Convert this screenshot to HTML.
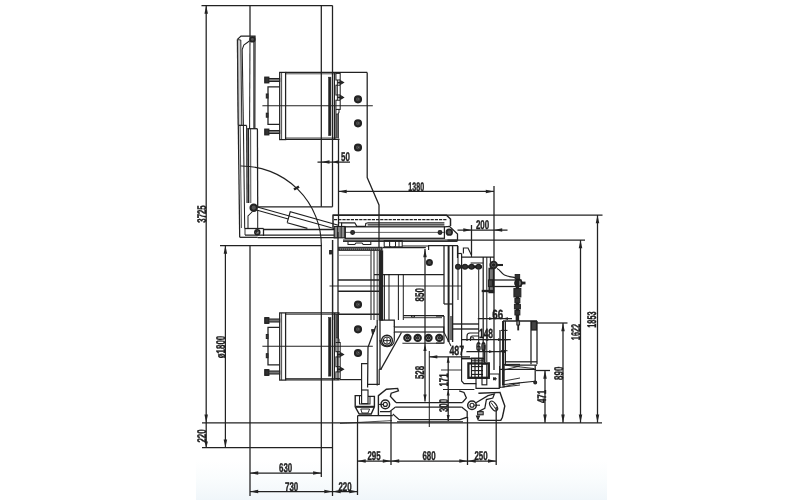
<!DOCTYPE html>
<html><head><meta charset="utf-8"><title>Drawing</title>
<style>
html,body{margin:0;padding:0;background:#fff;}
body{width:800px;height:500px;overflow:hidden;font-family:"Liberation Sans",sans-serif;}
svg{display:block;position:absolute;left:0;top:0}
svg *{vector-effect:none}
.t{font-family:"Liberation Sans",sans-serif;fill:#1e1e1e;stroke:#1e1e1e;stroke-width:0.4px;text-rendering:geometricPrecision}
.a{fill:#222;stroke:none}
</style></head><body>
<svg width="800" height="500" viewBox="0 0 800 500">
<defs><linearGradient id="bg" x1="0" y1="0" x2="0" y2="1"><stop offset="0" stop-color="#ffffff"/><stop offset="0.5" stop-color="#f9fcfd"/><stop offset="1" stop-color="#f0f6fa"/></linearGradient><filter id="gs" x="0" y="0" width="800" height="500" filterUnits="userSpaceOnUse" color-interpolation-filters="sRGB"><feColorMatrix type="saturate" values="0"/><feGaussianBlur stdDeviation="0.3"/></filter><filter id="bl" x="0" y="0" width="800" height="500" filterUnits="userSpaceOnUse"><feGaussianBlur stdDeviation="0.32"/></filter></defs>
<rect x="0" y="0" width="800" height="500" fill="#ffffff"/>
<rect x="196" y="460" width="411" height="40" fill="url(#bg)"/>
<g fill="none" stroke="#202020" stroke-width="1.25" filter="url(#bl)">
<line x1="201.5" y1="5.5" x2="332.5" y2="5.5"/>
<line x1="206.2" y1="5.5" x2="206.2" y2="447.6"/>
<polygon points="206.2,5.5 204.45,13.7 207.95,13.7" class="a"/>
<polygon points="206.2,422.8 204.45,414.6 207.95,414.6" class="a"/>
<polygon points="206.2,447.6 204.45,441.6 207.95,441.6" class="a"/>
<line x1="250" y1="5.5" x2="250" y2="36"/>
<line x1="321.3" y1="5.5" x2="321.3" y2="206.8"/>
<line x1="332.5" y1="5.5" x2="332.5" y2="206.8"/>
<line x1="257.5" y1="206.8" x2="332.5" y2="206.8"/>
<line x1="250" y1="245.5" x2="250" y2="496"/>
<line x1="321.3" y1="245.5" x2="321.3" y2="477"/>
<line x1="332.5" y1="240" x2="332.5" y2="496"/>
<line x1="220" y1="245.5" x2="321.3" y2="245.5"/>
<line x1="225.4" y1="245.5" x2="225.4" y2="447.6"/>
<polygon points="225.4,245.5 223.65,253.7 227.15,253.7" class="a"/>
<polygon points="225.4,447.6 223.65,439.40000000000003 227.15,439.40000000000003" class="a"/>
<line x1="202" y1="422.9" x2="602" y2="422.9"/>
<line x1="202" y1="447.6" x2="332.5" y2="447.6"/>
<line x1="250" y1="473" x2="321.3" y2="473"/>
<polygon points="250,473 258.2,471.25 258.2,474.75" class="a"/>
<polygon points="321.3,473 313.1,471.25 313.1,474.75" class="a"/>
<line x1="250" y1="491.5" x2="357.5" y2="491.5"/>
<polygon points="250,491.5 258.2,489.75 258.2,493.25" class="a"/>
<polygon points="332.5,491.5 324.3,489.75 324.3,493.25" class="a"/>
<polygon points="332.5,491.5 340.7,489.75 340.7,493.25" class="a"/>
<polygon points="357.5,491.5 349.3,489.75 349.3,493.25" class="a"/>
<line x1="357.5" y1="422.8" x2="357.5" y2="495"/>
<line x1="391" y1="411" x2="391" y2="465"/>
<line x1="467.5" y1="417" x2="467.5" y2="465"/>
<line x1="496.2" y1="407" x2="496.2" y2="465"/>
<line x1="357.5" y1="461" x2="496.2" y2="461"/>
<polygon points="357.5,461 365.7,459.25 365.7,462.75" class="a"/>
<polygon points="391,461 399.2,459.25 399.2,462.75" class="a"/>
<polygon points="467.5,461 475.7,459.25 475.7,462.75" class="a"/>
<polygon points="391,461 382.8,459.25 382.8,462.75" class="a"/>
<polygon points="467.5,461 459.3,459.25 459.3,462.75" class="a"/>
<polygon points="496.2,461 488.0,459.25 488.0,462.75" class="a"/>
<line x1="317.5" y1="162" x2="350" y2="162"/>
<polygon points="321.3,162 329.5,160.25 329.5,163.75" class="a"/>
<polygon points="332.5,162 338.5,160.25 338.5,163.75" class="a"/>
<line x1="338.5" y1="191.4" x2="494" y2="191.4"/>
<polygon points="338.5,191.4 346.7,189.65 346.7,193.15" class="a"/>
<polygon points="494,191.4 485.8,189.65 485.8,193.15" class="a"/>
<line x1="338.5" y1="139" x2="338.5" y2="232"/>
<line x1="494" y1="186" x2="494" y2="370"/>
<line x1="457.5" y1="230" x2="507.5" y2="230"/>
<polygon points="471.5,230 463.3,228.25 463.3,231.75" class="a"/>
<polygon points="494,230 502.2,228.25 502.2,231.75" class="a"/>
<line x1="471.5" y1="225" x2="471.5" y2="255"/>
<line x1="333" y1="215" x2="602.5" y2="215"/>
<line x1="597.5" y1="215" x2="597.5" y2="422.8"/>
<polygon points="597.5,215 595.75,223.2 599.25,223.2" class="a"/>
<polygon points="597.5,422.8 595.75,414.6 599.25,414.6" class="a"/>
<line x1="447.5" y1="240" x2="585" y2="240"/>
<line x1="580.5" y1="240" x2="580.5" y2="422.8"/>
<polygon points="580.5,240 578.75,248.2 582.25,248.2" class="a"/>
<polygon points="580.5,422.8 578.75,414.6 582.25,414.6" class="a"/>
<line x1="536" y1="323" x2="567.5" y2="323"/>
<line x1="563" y1="323" x2="563" y2="422.8"/>
<polygon points="563,323 561.25,331.2 564.75,331.2" class="a"/>
<polygon points="563,422.8 561.25,414.6 564.75,414.6" class="a"/>
<line x1="536" y1="370.5" x2="550" y2="370.5"/>
<line x1="545" y1="370.5" x2="545" y2="422.8"/>
<polygon points="545,370.5 543.25,378.7 546.75,378.7" class="a"/>
<polygon points="545,422.8 543.25,414.6 546.75,414.6" class="a"/>
<line x1="425" y1="249" x2="425" y2="401.5"/>
<polygon points="425,249 423.25,257.2 426.75,257.2" class="a"/>
<line x1="429.3" y1="351" x2="429.3" y2="427" stroke-width="1.03"/>
<polygon points="425,344 423.4,351 426.6,351" class="a"/>
<polygon points="425,401.5 423.4,394.5 426.6,394.5" class="a"/>
<line x1="448.2" y1="356.8" x2="448.2" y2="421"/>
<polygon points="448.2,356.8 446.7,362.8 449.7,362.8" class="a"/>
<polygon points="448.2,389.5 446.7,395.5 449.7,395.5" class="a"/>
<polygon points="448.2,421 446.7,415 449.7,415" class="a"/>
<line x1="429.3" y1="356.8" x2="470" y2="356.8"/>
<polygon points="429.3,356.8 437.3,355.2 437.3,358.40000000000003" class="a"/>
<rect x="279.7" y="72.4" width="5.9" height="67.2"/>
<line x1="281.6" y1="72.4" x2="281.6" y2="139.6" stroke-width="0.8"/>
<line x1="285.6" y1="72.4" x2="367.2" y2="72.4"/>
<line x1="285.6" y1="139.3" x2="339.5" y2="139.3"/>
<line x1="285.6" y1="73.8" x2="336" y2="73.8" stroke-width="0.8"/>
<line x1="285.6" y1="138" x2="336" y2="138" stroke-width="0.8"/>
<rect x="264.8" y="77.2" width="4.0" height="5.6" fill="#333"/>
<rect x="268.8" y="78.5" width="10.9" height="3.0" stroke-width="1.03" fill="#777"/>
<rect x="264.8" y="129.2" width="4.0" height="5.6" fill="#333"/>
<rect x="268.8" y="130.5" width="10.9" height="3.0" stroke-width="1.03" fill="#777"/>
<path d="M279.7 86.8 L268 86.8 L268 124.4 L279.7 124.4"/>
<rect x="266.3" y="94" width="1.7" height="4" stroke-width="1.03" fill="#444"/>
<rect x="266.3" y="113.2" width="1.7" height="4.0" stroke-width="1.03" fill="#444"/>
<line x1="262.4" y1="105.7" x2="372.8" y2="105.7" stroke-width="1.03"/>
<rect x="328.6" y="77.2" width="2.3" height="58.4" stroke-width="0.57" fill="#222"/>
<line x1="334.4" y1="72.4" x2="334.4" y2="139.3"/>
<rect x="335.9" y="73.4" width="4.3" height="6.6" stroke-width="1.03"/>
<rect x="335.9" y="85.2" width="4.3" height="9.8" stroke-width="1.03"/>
<rect x="335.9" y="100.2" width="4.3" height="9.2" stroke-width="1.03"/>
<line x1="337.4" y1="80" x2="337.4" y2="100.2" stroke-width="0.92"/>
<path d="M335.9 109.4 L335.9 138.6" stroke-width="1.03"/>
<path d="M339 109.4 L339 112.4 L338.3 113.5 L338.3 138.6" stroke-width="1.03"/>
<rect x="336.4" y="114" width="1.4" height="23.5" stroke-width="0.69" fill="#bbb"/>
<path d="M337.4 82.6 L340 82.6" stroke-width="1.84"/>
<path d="M340 80.5 L343.6 82.6 L340 84.69999999999999 Z" stroke-width="1.03" fill="#2a2a2a"/>
<path d="M337.4 97.4 L340 97.4" stroke-width="1.84"/>
<path d="M340 95.30000000000001 L343.6 97.4 L340 99.5 Z" stroke-width="1.03" fill="#2a2a2a"/>
<rect x="279.7" y="312.9" width="5.9" height="67.2"/>
<line x1="281.6" y1="312.9" x2="281.6" y2="380.1" stroke-width="0.8"/>
<line x1="285.6" y1="312.9" x2="339.5" y2="312.9"/>
<line x1="285.6" y1="379.8" x2="339.5" y2="379.8"/>
<line x1="285.6" y1="314.3" x2="336" y2="314.3" stroke-width="0.8"/>
<line x1="285.6" y1="378.5" x2="336" y2="378.5" stroke-width="0.8"/>
<rect x="264.8" y="317.7" width="4.0" height="5.6" fill="#333"/>
<rect x="268.8" y="319.0" width="10.9" height="3.0" stroke-width="1.03" fill="#777"/>
<rect x="264.8" y="369.7" width="4.0" height="5.6" fill="#333"/>
<rect x="268.8" y="371.0" width="10.9" height="3.0" stroke-width="1.03" fill="#777"/>
<path d="M279.7 327.3 L268 327.3 L268 364.9 L279.7 364.9"/>
<rect x="266.3" y="334.5" width="1.7" height="4.0" stroke-width="1.03" fill="#444"/>
<rect x="266.3" y="353.7" width="1.7" height="4.0" stroke-width="1.03" fill="#444"/>
<line x1="262.4" y1="346.2" x2="372.8" y2="346.2" stroke-width="1.03"/>
<rect x="328.6" y="317.7" width="2.3" height="58.4" stroke-width="0.57" fill="#222"/>
<line x1="334.4" y1="312.9" x2="334.4" y2="379.8"/>
<rect x="335.9" y="371.9" width="4.3" height="6.6" stroke-width="1.03"/>
<rect x="335.9" y="356.9" width="4.3" height="9.8" stroke-width="1.03"/>
<rect x="335.9" y="342.5" width="4.3" height="9.2" stroke-width="1.03"/>
<line x1="337.4" y1="351.7" x2="337.4" y2="371.9" stroke-width="0.92"/>
<path d="M335.9 342.5 L335.9 313.3" stroke-width="1.03"/>
<path d="M339 342.5 L339 339.5 L338.3 338.4 L338.3 313.3" stroke-width="1.03"/>
<rect x="336.4" y="314.4" width="1.4" height="23.5" stroke-width="0.69" fill="#bbb"/>
<path d="M337.4 369.3 L340 369.3" stroke-width="1.84"/>
<path d="M340 371.4 L343.6 369.3 L340 367.2 Z" stroke-width="1.03" fill="#2a2a2a"/>
<path d="M337.4 354.5 L340 354.5" stroke-width="1.84"/>
<path d="M340 356.6 L343.6 354.5 L340 352.4 Z" stroke-width="1.03" fill="#2a2a2a"/>
<path d="M367.2 72.4 L367.2 177.5 L379 205 L379 250"/>
<circle cx="358" cy="99.3" r="3.1" stroke-width="1.95" fill="#4a4a4a"/>
<circle cx="358.6" cy="99.0" r="0.9" stroke-width="0.69" fill="#999"/>
<circle cx="358" cy="123.3" r="3.1" stroke-width="1.95" fill="#4a4a4a"/>
<circle cx="358.6" cy="123.0" r="0.9" stroke-width="0.69" fill="#999"/>
<circle cx="358" cy="147.5" r="3.1" stroke-width="1.95" fill="#4a4a4a"/>
<circle cx="358.6" cy="147.2" r="0.9" stroke-width="0.69" fill="#999"/>
<circle cx="358" cy="304.5" r="3.1" stroke-width="1.95" fill="#4a4a4a"/>
<circle cx="358.6" cy="304.2" r="0.9" stroke-width="0.69" fill="#999"/>
<circle cx="358" cy="329.3" r="3.1" stroke-width="1.95" fill="#4a4a4a"/>
<circle cx="358.6" cy="329.0" r="0.9" stroke-width="0.69" fill="#999"/>
<circle cx="358" cy="353" r="3.1" stroke-width="1.95" fill="#4a4a4a"/>
<circle cx="358.6" cy="352.7" r="0.9" stroke-width="0.69" fill="#999"/>
<path d="M237.4 39.4 L241 36 L255 36 L254.8 128.7"/>
<line x1="237.4" y1="39.4" x2="238.3" y2="125.4"/>
<line x1="238.3" y1="125.4" x2="239.7" y2="237.3"/>
<path d="M237.6 39.6 L240.8 40 L241.8 125.4 L238.3 125.4 Z" stroke-width="0.92" fill="#d0d0d0"/>
<line x1="240.1" y1="125.4" x2="241.4" y2="228" stroke-width="0.8"/>
<path d="M249.4 41 L243.8 45 L242.2 49.5 L243.4 125.4 L244.7 228.4" stroke-width="1.03"/>
<circle cx="252.4" cy="39.4" r="2.3" stroke-width="1.72" fill="#555"/>
<line x1="253.7" y1="42" x2="253.7" y2="128.7" stroke-width="0.8"/>
<line x1="250" y1="36" x2="249.6" y2="128.7" stroke-width="1.03"/>
<line x1="238.3" y1="125.4" x2="246.6" y2="125.4"/>
<line x1="246.6" y1="125.4" x2="247" y2="203" stroke-width="1.03"/>
<line x1="247.2" y1="128.7" x2="257.4" y2="128.7"/>
<line x1="248.2" y1="128.7" x2="248.5" y2="203" stroke-width="1.72"/>
<line x1="250.6" y1="128.7" x2="250.8" y2="203" stroke-width="0.8"/>
<line x1="257.4" y1="128.7" x2="257.7" y2="206.8"/>
<line x1="239.7" y1="237.3" x2="257.7" y2="237.3"/>
<line x1="244.7" y1="228.5" x2="263.5" y2="228.5"/>
<line x1="263.5" y1="229.5" x2="339" y2="229.5" stroke-width="1.49"/>
<line x1="245" y1="235" x2="339" y2="235"/>
<line x1="257.7" y1="237.7" x2="339" y2="237.7"/>
<line x1="263.5" y1="228.5" x2="263.5" y2="236"/>
<line x1="245" y1="228.5" x2="245" y2="235" stroke-width="0.92"/>
<circle cx="257.3" cy="232.3" r="2.4" stroke-width="1.72"/>
<rect x="256.5" y="231.5" width="1.6" height="1.6" stroke-width="0.8"/>
<circle cx="253.7" cy="207.7" r="3.2" stroke-width="2.07" fill="#555"/>
<path d="M252.5 211.5 L248 216 L248 228.4" stroke-width="1.03"/>
<line x1="257.7" y1="210" x2="257.7" y2="228.4" stroke-width="1.03"/>
<path d="M257.32 206.97 L337.51 229.42" stroke-width="1.03"/>
<path d="M256.46 210.05 L288.24 218.95" stroke-width="1.03"/>
<path d="M287.18 222.7 L290.23 211.82 L338.38 225.3" stroke-width="1.15"/>
<path d="M287.18 222.7 L307.41 228.37" stroke-width="1.15"/>
<path d="M240.5 166 A80 80 0 0 1 321.4 246" stroke-width="1.15"/>
<path d="M294 189.5 L296.5 188 L299 186.6" stroke-width="2.53"/>
<rect x="334.2" y="226.5" width="10.8" height="11.3" stroke-width="1.15" fill="#8a8a8a"/>
<line x1="337.6" y1="226.5" x2="337.6" y2="237.8" stroke-width="0.92"/>
<line x1="341.2" y1="226.5" x2="341.2" y2="237.8" stroke-width="0.92"/>
<rect x="329.6" y="250.5" width="1.8" height="3.5" stroke-width="0.92" fill="#333"/>
<path d="M333 227.7 L333 215.2 L446.5 215.2 L450.5 219 L450.5 226" stroke-width="1.49"/>
<line x1="334" y1="219.6" x2="447" y2="219.6" stroke-width="1.3" stroke-dasharray="3.2 1"/>
<path d="M338.5 227 L338.5 222.8 L341.6 222.8" stroke-width="0.92"/>
<path d="M341.6 226.8 L341.6 222.8 L354.8 222.8 L356.8 226.4 L365.4 226.4 L365.8 223.4 L368 222.8 L444.4 222.8" stroke-width="1.15"/>
<line x1="367.6" y1="224.8" x2="444.4" y2="224.8" stroke-width="1.15"/>
<rect x="345.2" y="226.8" width="99.2" height="11.5"/>
<line x1="345.2" y1="232.4" x2="444.4" y2="232.4" stroke-width="0.69"/>
<circle cx="352.6" cy="232.4" r="1.9" stroke-width="1.15" fill="#333"/>
<circle cx="440" cy="232.4" r="1.9" stroke-width="1.15" fill="#333"/>
<circle cx="449.3" cy="232.2" r="2.8" stroke-width="1.72" fill="#555"/>
<path d="M444.4 226.8 L449.5 226.4 L457.5 234 L457.5 240 L343 240"/>
<line x1="343" y1="241.5" x2="457.5" y2="241.5" stroke-width="0.92"/>
<path d="M348 241.5 L348 244.6 L354.8 244.6 L356 243 L362 243 L363.2 244.6 L370.8 244.6 L370.8 241.5" stroke-width="1.03"/>
<rect x="384.2" y="240.6" width="18.0" height="6.2" stroke-width="1.03"/>
<path d="M389.6 240.6 L389.6 246 L391 247.6 L394 247.6 L395.5 246 L395.5 240.6" stroke-width="1.03"/>
<line x1="399" y1="240.6" x2="399" y2="246.8" stroke-width="0.92"/>
<line x1="402.2" y1="246" x2="428.6" y2="246" stroke-width="1.03"/>
<path d="M428.6 250 L428.6 245.6 L457.5 245.6 L457.5 258" stroke-width="1.15"/>
<rect x="338.7" y="247.3" width="43.3" height="3.0" stroke-width="1.03" fill="#888"/>
<line x1="339" y1="250.3" x2="340.4" y2="247.3" stroke-width="0.8" stroke="#222"/>
<line x1="341" y1="250.3" x2="342.4" y2="247.3" stroke-width="0.8" stroke="#222"/>
<line x1="343" y1="250.3" x2="344.4" y2="247.3" stroke-width="0.8" stroke="#222"/>
<line x1="345" y1="250.3" x2="346.4" y2="247.3" stroke-width="0.8" stroke="#222"/>
<line x1="347" y1="250.3" x2="348.4" y2="247.3" stroke-width="0.8" stroke="#222"/>
<line x1="349" y1="250.3" x2="350.4" y2="247.3" stroke-width="0.8" stroke="#222"/>
<line x1="351" y1="250.3" x2="352.4" y2="247.3" stroke-width="0.8" stroke="#222"/>
<line x1="353" y1="250.3" x2="354.4" y2="247.3" stroke-width="0.8" stroke="#222"/>
<line x1="355" y1="250.3" x2="356.4" y2="247.3" stroke-width="0.8" stroke="#222"/>
<line x1="357" y1="250.3" x2="358.4" y2="247.3" stroke-width="0.8" stroke="#222"/>
<line x1="359" y1="250.3" x2="360.4" y2="247.3" stroke-width="0.8" stroke="#222"/>
<line x1="361" y1="250.3" x2="362.4" y2="247.3" stroke-width="0.8" stroke="#222"/>
<line x1="363" y1="250.3" x2="364.4" y2="247.3" stroke-width="0.8" stroke="#222"/>
<line x1="365" y1="250.3" x2="366.4" y2="247.3" stroke-width="0.8" stroke="#222"/>
<line x1="367" y1="250.3" x2="368.4" y2="247.3" stroke-width="0.8" stroke="#222"/>
<line x1="369" y1="250.3" x2="370.4" y2="247.3" stroke-width="0.8" stroke="#222"/>
<line x1="371" y1="250.3" x2="372.4" y2="247.3" stroke-width="0.8" stroke="#222"/>
<line x1="373" y1="250.3" x2="374.4" y2="247.3" stroke-width="0.8" stroke="#222"/>
<line x1="375" y1="250.3" x2="376.4" y2="247.3" stroke-width="0.8" stroke="#222"/>
<line x1="377" y1="250.3" x2="378.4" y2="247.3" stroke-width="0.8" stroke="#222"/>
<line x1="379" y1="250.3" x2="380.4" y2="247.3" stroke-width="0.8" stroke="#222"/>
<line x1="381" y1="250.3" x2="382.4" y2="247.3" stroke-width="0.8" stroke="#222"/>
<line x1="332.6" y1="240" x2="332.6" y2="320"/>
<line x1="338" y1="232" x2="338" y2="380"/>
<line x1="371" y1="250.3" x2="371" y2="320" stroke-width="1.03"/>
<line x1="374" y1="250.3" x2="374" y2="320" stroke-width="1.03"/>
<rect x="379.3" y="251" width="3.3" height="69" stroke-width="1.15" fill="#222"/>
<line x1="377.2" y1="251" x2="377.2" y2="320" stroke-width="0.8"/>
<line x1="338" y1="255.3" x2="371" y2="255.3" stroke-width="0.69" stroke="#777"/>
<line x1="338" y1="280" x2="379" y2="280" stroke-width="1.38"/>
<line x1="329.5" y1="286" x2="462" y2="286" stroke-width="0.92"/>
<line x1="338" y1="291.3" x2="379" y2="291.3" stroke-width="1.38"/>
<line x1="338" y1="314.3" x2="379" y2="314.3" stroke-width="1.38"/>
<line x1="383" y1="247.6" x2="425.8" y2="247.6"/>
<line x1="374" y1="274.7" x2="444" y2="274.7"/>
<line x1="384.4" y1="274.7" x2="384.4" y2="320" stroke-width="1.03"/>
<line x1="389" y1="274.7" x2="389" y2="320" stroke-width="1.03"/>
<line x1="398.4" y1="274.7" x2="398.4" y2="320" stroke-width="1.03"/>
<line x1="403.3" y1="274.7" x2="403.3" y2="320" stroke-width="1.03"/>
<line x1="403.3" y1="315.6" x2="444" y2="315.6"/>
<line x1="403.3" y1="317.7" x2="442" y2="317.7" stroke-width="0.92"/>
<path d="M411.5 315.6 L411.5 317 L414.5 317 L414.5 315.6" stroke-width="0.92"/>
<circle cx="429.4" cy="262.5" r="2.6" stroke-width="1.84" fill="#444"/>
<line x1="444" y1="246" x2="444" y2="304"/>
<line x1="448.6" y1="246" x2="448.6" y2="342" stroke-width="1.95"/>
<line x1="452.6" y1="246" x2="452.6" y2="342" stroke-width="1.38"/>
<line x1="444" y1="304" x2="452.8" y2="304"/>
<line x1="458" y1="246" x2="458" y2="300" stroke-width="1.03"/>
<path d="M377.2 320 L377.2 385.6"/>
<path d="M380 320 L394.3 320 L394.3 327"/>
<line x1="380" y1="320" x2="380" y2="369.4"/>
<circle cx="387" cy="340.6" r="5.4" stroke-width="1.38"/>
<circle cx="387" cy="340.6" r="3.6" stroke-width="1.15"/>
<path d="M380 340 C380 349 394.3 349 394.3 340 L394.3 332" stroke-width="1.15"/>
<line x1="383.8" y1="340.6" x2="390.2" y2="340.6" stroke-width="0.92"/>
<line x1="387" y1="337.4" x2="387" y2="343.8" stroke-width="0.92"/>
<rect x="394.3" y="327" width="49.5" height="5" stroke-width="1.15"/>
<circle cx="407.4" cy="337.9" r="3.1" stroke-width="2.18"/>
<circle cx="407.4" cy="337.9" r="1.2" stroke-width="1.15" fill="#555"/>
<circle cx="417.7" cy="337.9" r="3.1" stroke-width="2.18"/>
<circle cx="417.7" cy="337.9" r="1.2" stroke-width="1.15" fill="#555"/>
<circle cx="428.5" cy="337.9" r="3.1" stroke-width="2.18"/>
<circle cx="428.5" cy="337.9" r="1.2" stroke-width="1.15" fill="#555"/>
<circle cx="439.3" cy="337.9" r="3.1" stroke-width="2.18"/>
<circle cx="439.3" cy="337.9" r="1.2" stroke-width="1.15" fill="#555"/>
<line x1="402.4" y1="343.3" x2="443.8" y2="343.3" stroke-width="1.03"/>
<line x1="401.5" y1="332.5" x2="380.8" y2="369.4"/>
<line x1="443.8" y1="332" x2="451" y2="346" stroke-width="1.03"/>
<line x1="444" y1="316" x2="444" y2="332"/>
<line x1="451" y1="316" x2="451" y2="340"/>
<line x1="339.5" y1="379.6" x2="361.6" y2="379.6"/>
<path d="M367.6 363.6 L361.6 363.6 L361.6 390" stroke-width="1.15"/>
<path d="M376 325.7 L368 347.3 L367.6 387.6"/>
<path d="M371.5 329.5 L375 329.8 L372.6 334.5 Z" stroke-width="0.92" fill="#333"/>
<path d="M379.2 369.2 L379.2 384.4 L367.6 384.4" stroke-width="1.15"/>
<line x1="379.2" y1="369.2" x2="381.6" y2="369.2"/>
<rect x="361.6" y="390" width="6.4" height="13.6" stroke-width="1.15"/>
<path d="M361.6 395.6 L355.2 395.6 L355.2 406.8 L359.2 414 L371.2 414 L374.4 406.8 L374.4 396.4 L368 396.4" stroke-width="1.38"/>
<path d="M359.5 396 L359.5 404 L370 404 L370 396.4" stroke-width="1.03"/>
<line x1="356" y1="406.8" x2="374" y2="406.8" stroke-width="2.07"/>
<path d="M360.8 409 L369.6 409 L368 413 L362 413 L360.8 409" stroke-width="0.92"/>
<line x1="357.6" y1="415.6" x2="392.8" y2="415.6"/>
<line x1="357.6" y1="415.6" x2="357.6" y2="422.8"/>
<path d="M378.4 415.6 L378.4 395.6 L386.4 389.2 L397.6 388.4 L398.4 390.8 L391.2 393.2 L390.4 396.4 L396 402.5" stroke-width="1.38"/>
<circle cx="385.3" cy="404.4" r="4.3" stroke-width="1.49"/>
<circle cx="385.3" cy="404.4" r="2" stroke-width="1.15"/>
<line x1="379" y1="404.4" x2="383.2" y2="404.4" stroke-width="1.03"/>
<path d="M380 411.6 L389.6 411.6 L395.2 407.3" stroke-width="1.15"/>
<line x1="396" y1="402.5" x2="462.4" y2="402.5"/>
<line x1="395.2" y1="407" x2="461.6" y2="407"/>
<path d="M392.8 414 L399.2 419.6 L460 419.6" stroke-width="1.15"/>
<line x1="397" y1="421.8" x2="463" y2="421.8" stroke-width="1.03"/>
<line x1="340" y1="423.4" x2="392" y2="420.6" stroke-width="0.8"/>
<path d="M459.2 390.8 L464 392.4 L466.4 398 L462.4 402.5"/>
<path d="M461.6 407 L467.2 411.6 L467.2 417.2 L460 419.6"/>
<circle cx="472" cy="405.2" r="4.3" stroke-width="1.49"/>
<circle cx="472" cy="405.2" r="2" stroke-width="1.15"/>
<line x1="474.2" y1="405.2" x2="480" y2="405.2" stroke-width="1.03"/>
<path d="M478.4 393.2 L500 392.4 L504.8 406 L502.4 417.2 L500.8 420.4 L478.4 420.4" stroke-width="1.38"/>
<path d="M476 402.8 L488 395.6 L494.4 394 L492.8 398 L486.4 399.6 L484.8 408.4 L478.4 411.6"/>
<ellipse cx="493.6" cy="406" rx="5.6" ry="2.8" transform="rotate(55 493.6 406)" stroke-width="1.2"/>
<line x1="491" y1="402.5" x2="496.3" y2="409.8" stroke-width="0.92"/>
<rect x="477.6" y="411.6" width="5.6" height="3.2" stroke-width="1.03" fill="#999"/>
<path d="M476.5 416 L478 419.6 L479.5 416 Z" stroke-width="1.03" fill="#444"/>
<rect x="468.4" y="363.4" width="20.4" height="14.4" stroke-width="2.3"/>
<line x1="471.5" y1="358" x2="471.5" y2="378" stroke-width="1.15"/>
<line x1="475" y1="358" x2="475" y2="378" stroke-width="1.15"/>
<line x1="478.5" y1="358" x2="478.5" y2="378" stroke-width="1.15"/>
<line x1="482" y1="358" x2="482" y2="378" stroke-width="1.15"/>
<line x1="471" y1="358.2" x2="483" y2="358.2" stroke-width="1.15"/>
<line x1="471" y1="360.8" x2="483" y2="360.8" stroke-width="1.15"/>
<line x1="471" y1="366.6" x2="483" y2="366.6" stroke-width="1.15"/>
<line x1="471" y1="370.6" x2="483" y2="370.6" stroke-width="1.15"/>
<line x1="471" y1="374.4" x2="483" y2="374.4" stroke-width="1.15"/>
<rect x="482" y="364" width="4.8" height="20.8" stroke-width="1.15"/>
<line x1="461.8" y1="358.6" x2="484.7" y2="358.6" stroke-width="1.61"/>
<line x1="484.7" y1="345" x2="484.7" y2="364" stroke-width="1.49"/>
<path d="M461.6 358 L461.6 381 L464 383.6 L476 383.6 L476 378" stroke-width="1.15"/>
<path d="M476 383.6 L476 388.4 L499.2 388.4 L499.2 374 L489 374" stroke-width="1.15"/>
<line x1="493.5" y1="378.8" x2="497" y2="378.8" stroke-width="0.92"/>
<line x1="495.2" y1="377" x2="495.2" y2="380.6" stroke-width="0.92"/>
<path d="M493.5 377.6 L495.8 378.8 L493.5 380 Z" stroke-width="0.92" fill="#333"/>
<line x1="453" y1="324" x2="479" y2="324" stroke-width="1.38"/>
<line x1="453" y1="329" x2="479" y2="329" stroke-width="1.38"/>
<path d="M479 333 L470 333 Q467 333 467 336 L467 341" stroke-width="1.15"/>
<path d="M479 336 L472.5 336 Q470.5 336 470.5 338 L470.5 341" stroke-width="1.03"/>
<ellipse cx="472" cy="338.2" rx="1.8" ry="1.1" stroke-width="0.9"/>
<path d="M436 316 L444 316" stroke-width="1.15"/>
<path d="M436 343 L444 343 L444 332" stroke-width="1.15"/>
<line x1="500" y1="330" x2="500" y2="387.6"/>
<line x1="504" y1="366" x2="504" y2="387.6" stroke-width="1.03"/>
<line x1="504" y1="364.4" x2="520" y2="364.4" stroke-width="1.03"/>
<line x1="504" y1="370" x2="520" y2="366" stroke-width="0.92"/>
<line x1="500" y1="387.6" x2="520" y2="383" stroke-width="0.92"/>
<line x1="504" y1="381" x2="520" y2="378" stroke-width="0.92"/>
<line x1="441" y1="370" x2="461.6" y2="370" stroke-width="0.92"/>
<path d="M458 253.5 L461.6 253.5" stroke-width="1.15"/>
<line x1="461.6" y1="253.5" x2="461.6" y2="358"/>
<path d="M463.4 253.5 L463.4 248 L468 248 L471.5 255.3 L471.5 257" stroke-width="1.15"/>
<line x1="461.6" y1="257" x2="494" y2="257"/>
<line x1="478.7" y1="269.7" x2="478.7" y2="366" stroke-width="1.03"/>
<line x1="483.2" y1="257" x2="483.2" y2="362"/>
<line x1="486.8" y1="257" x2="486.8" y2="362" stroke-width="1.03"/>
<line x1="490.4" y1="257" x2="490.4" y2="292" stroke-width="1.03"/>
<line x1="470.6" y1="263" x2="483.2" y2="263" stroke-width="1.03"/>
<line x1="455.6" y1="266.8" x2="482" y2="266.8" stroke-width="2.99"/>
<circle cx="458" cy="266.8" r="2.4" stroke-width="1.15" fill="#333"/>
<circle cx="465" cy="266.8" r="2.4" stroke-width="1.15" fill="#333"/>
<circle cx="471.6" cy="266.8" r="2.4" stroke-width="1.15" fill="#333"/>
<circle cx="478.6" cy="266.8" r="2.4" stroke-width="1.15" fill="#333"/>
<circle cx="493.6" cy="265" r="3.3" stroke-width="1.84" fill="#666"/>
<circle cx="493.6" cy="265" r="1.1" stroke-width="1.15" fill="#222"/>
<line x1="497" y1="265" x2="503" y2="265" stroke-width="2.07"/>
<rect x="489.2" y="268.5" width="4.4" height="24.0" stroke-width="1.49" fill="#777"/>
<path d="M497 268.5 C500 269.5 501.5 273.5 504.5 275 C508 276.5 512 277 515.5 277.8"/>
<rect x="489.5" y="280" width="31.5" height="6.5"/>
<rect x="488.5" y="280" width="4.0" height="6.5" stroke-width="1.15" fill="#444"/>
<circle cx="518.4" cy="283" r="3.4" stroke-width="1.72" fill="#777"/>
<line x1="521.8" y1="283" x2="525.5" y2="283" stroke-width="2.76"/>
<line x1="481.7" y1="291" x2="493" y2="291" stroke-width="2.3"/>
<line x1="517.4" y1="275" x2="517.4" y2="321" stroke-width="3.45"/>
<rect x="515.15" y="274.5" width="4.5" height="4.5" stroke-width="0.92" fill="#333"/>
<rect x="513.9" y="288.5" width="7.0" height="8.5" stroke-width="0.92" fill="#333"/>
<rect x="514.9" y="298.5" width="5.0" height="4.5" stroke-width="0.92" fill="#333"/>
<rect x="514.4" y="304.5" width="6.0" height="4.5" stroke-width="0.92" fill="#333"/>
<rect x="514.9" y="310.5" width="5.0" height="4.5" stroke-width="0.92" fill="#333"/>
<line x1="477.8" y1="318.6" x2="512" y2="318.6" stroke-width="1.15"/>
<polygon points="494,318.6 489,317.20000000000005 489,320.0" class="a"/>
<polygon points="503,318.6 508,317.20000000000005 508,320.0" class="a"/>
<line x1="461.6" y1="339.6" x2="510.8" y2="339.6" stroke-width="1.15"/>
<polygon points="483.2,339.6 488.2,338.20000000000005 488.2,341.0" class="a"/>
<polygon points="503,339.6 498,338.20000000000005 498,341.0" class="a"/>
<line x1="466.4" y1="351.6" x2="502.4" y2="351.6" stroke-width="1.15"/>
<polygon points="494,351.6 489,350.20000000000005 489,353.0" class="a"/>
<polygon points="500,351.6 505,350.20000000000005 505,353.0" class="a"/>
<line x1="443" y1="389.5" x2="474.4" y2="389.5" stroke-width="1.03"/>
<line x1="503.2" y1="321" x2="503.2" y2="385.5" stroke-width="2.3"/>
<line x1="505.5" y1="321" x2="505.5" y2="365.2" stroke-width="1.03"/>
<line x1="503" y1="321" x2="537" y2="321" stroke-width="1.38"/>
<line x1="531" y1="321" x2="531" y2="364.3"/>
<line x1="537" y1="321" x2="537" y2="364.3"/>
<line x1="505.5" y1="361.8" x2="537" y2="361.8"/>
<line x1="503" y1="365.2" x2="537" y2="365.2"/>
<rect x="531.5" y="321.5" width="5.0" height="8.5" stroke-width="1.15" fill="#444"/>
<line x1="518.2" y1="321" x2="518.2" y2="330.4" stroke-width="1.84"/>
<rect x="516.8" y="321" width="2.8" height="4" stroke-width="0.92" fill="#888"/>
<line x1="501" y1="330.4" x2="507.5" y2="330.4" stroke-width="1.03"/>
<line x1="501" y1="339.7" x2="507.5" y2="339.7" stroke-width="1.03"/>
<line x1="501" y1="350.7" x2="507.5" y2="350.7" stroke-width="1.03"/>
<line x1="499.5" y1="369.4" x2="536" y2="369.4"/>
<line x1="535.2" y1="365.2" x2="535.2" y2="382"/>
<circle cx="535.2" cy="382.4" r="1.4" stroke-width="1.15" fill="#333"/>
<line x1="505.5" y1="365.2" x2="534.3" y2="368.6" stroke-width="0.92"/>
<line x1="502" y1="384.7" x2="535" y2="381.3" stroke-width="1.15"/>
<line x1="502" y1="387.2" x2="520" y2="385" stroke-width="0.92"/>
<line x1="499.5" y1="366" x2="499.5" y2="388.4" stroke-width="1.03"/>
</g>
<g filter="url(#gs)">
<text transform="translate(201 214) rotate(-90) scale(0.62 1)" y="4.51" font-size="12.6" text-anchor="middle" font-weight="bold" class="t">3725</text>
<text transform="translate(201 436) rotate(-90) scale(0.63 1)" y="4.51" font-size="12.6" text-anchor="middle" font-weight="bold" class="t">220</text>
<text transform="translate(220.6 347) rotate(-90) scale(0.63 1)" y="4.51" font-size="12.6" text-anchor="middle" font-weight="bold" class="t">ø1800</text>
<text transform="translate(285.6 467.5) rotate(0) scale(0.63 1)" y="4.51" font-size="12.6" text-anchor="middle" font-weight="bold" class="t">630</text>
<text transform="translate(291.6 486) rotate(0) scale(0.63 1)" y="4.51" font-size="12.6" text-anchor="middle" font-weight="bold" class="t">730</text>
<text transform="translate(345 486) rotate(0) scale(0.63 1)" y="4.51" font-size="12.6" text-anchor="middle" font-weight="bold" class="t">220</text>
<text transform="translate(374 455.5) rotate(0) scale(0.63 1)" y="4.51" font-size="12.6" text-anchor="middle" font-weight="bold" class="t">295</text>
<text transform="translate(429 455.5) rotate(0) scale(0.63 1)" y="4.51" font-size="12.6" text-anchor="middle" font-weight="bold" class="t">680</text>
<text transform="translate(481 455.5) rotate(0) scale(0.63 1)" y="4.51" font-size="12.6" text-anchor="middle" font-weight="bold" class="t">250</text>
<text transform="translate(345.5 156) rotate(0) scale(0.63 1)" y="4.51" font-size="12.6" text-anchor="middle" font-weight="bold" class="t">50</text>
<text transform="translate(416.2 186.2) rotate(0) scale(0.57 1)" y="4.44" font-size="12.4" text-anchor="middle" font-weight="bold" class="t">1380</text>
<text transform="translate(482.5 224.5) rotate(0) scale(0.63 1)" y="4.51" font-size="12.6" text-anchor="middle" font-weight="bold" class="t">200</text>
<text transform="translate(591.5 319.6) rotate(-90) scale(0.58 1)" y="4.51" font-size="12.6" text-anchor="middle" font-weight="bold" class="t">1853</text>
<text transform="translate(575.5 332) rotate(-90) scale(0.58 1)" y="4.51" font-size="12.6" text-anchor="middle" font-weight="bold" class="t">1622</text>
<text transform="translate(558.6 373.3) rotate(-90) scale(0.63 1)" y="4.51" font-size="12.6" text-anchor="middle" font-weight="bold" class="t">890</text>
<text transform="translate(541 396.5) rotate(-90) scale(0.63 1)" y="4.51" font-size="12.6" text-anchor="middle" font-weight="bold" class="t">471</text>
<text transform="translate(419 294.8) rotate(-90) scale(0.63 1)" y="4.51" font-size="12.6" text-anchor="middle" font-weight="bold" class="t">850</text>
<text transform="translate(419 372.5) rotate(-90) scale(0.63 1)" y="4.51" font-size="12.6" text-anchor="middle" font-weight="bold" class="t">528</text>
<text transform="translate(443 380) rotate(-90) scale(0.63 1)" y="4.51" font-size="12.6" text-anchor="middle" font-weight="bold" class="t">171</text>
<text transform="translate(443 405.5) rotate(-90) scale(0.63 1)" y="4.51" font-size="12.6" text-anchor="middle" font-weight="bold" class="t">300</text>
<text transform="translate(497.8 313.8) rotate(0) scale(0.74 1)" y="4.76" font-size="13.3" text-anchor="middle" font-weight="bold" class="t">66</text>
<text transform="translate(486 333.6) rotate(0) scale(0.64 1)" y="4.76" font-size="13.3" text-anchor="middle" font-weight="bold" class="t">148</text>
<text transform="translate(456.8 349.8) rotate(0) scale(0.66 1)" y="4.76" font-size="13.3" text-anchor="middle" font-weight="bold" class="t">487</text>
<text transform="translate(481 346.5) rotate(0) scale(0.7 1)" y="4.51" font-size="12.6" text-anchor="middle" font-weight="bold" class="t">60</text>
</g>
</svg>
</body></html>
